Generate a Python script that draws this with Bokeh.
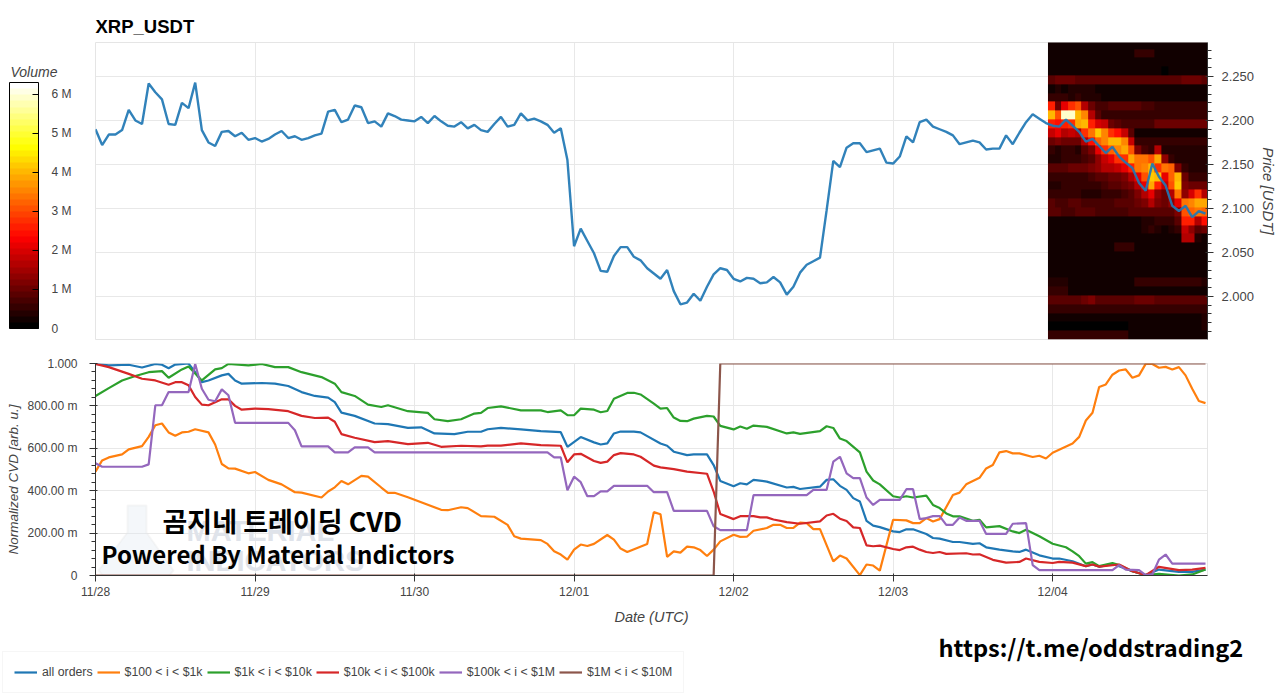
from math import pi

import numpy as np
import pandas as pd

from bokeh.embed import file_html
from bokeh.layouts import column, row
from bokeh.models import (ColorBar, DatetimeTickFormatter, FixedTicker, Label, Legend, LegendItem,
                          LinearAxis, LinearColorMapper, PolyAnnotation, Range1d)
from bokeh.plotting import figure
from bokeh.resources import INLINE

START = pd.Timestamp("2024-11-28")
FONT = "Liberation Sans"
TEXT_COLOR = "#444444"

price_usdt = [
    2.190, 2.172, 2.184, 2.184, 2.189, 2.212, 2.200, 2.196, 2.242, 2.232, 2.224, 2.196, 2.195, 2.220,
    2.214, 2.243, 2.189, 2.175, 2.171, 2.187, 2.188, 2.182, 2.186, 2.178, 2.180, 2.176, 2.179, 2.184,
    2.188, 2.180, 2.182, 2.178, 2.180, 2.183, 2.185, 2.210, 2.212, 2.198, 2.201, 2.217, 2.215, 2.197,
    2.199, 2.193, 2.208, 2.205, 2.201, 2.200, 2.199, 2.204, 2.197, 2.205, 2.199, 2.194, 2.193, 2.198,
    2.191, 2.195, 2.189, 2.187, 2.196, 2.204, 2.193, 2.195, 2.208, 2.200, 2.202, 2.199, 2.195, 2.186,
    2.191, 2.155, 2.057, 2.077, 2.063, 2.049, 2.029, 2.028, 2.046, 2.056, 2.056, 2.045, 2.041, 2.032,
    2.026, 2.020, 2.030, 2.006, 1.991, 1.993, 2.003, 1.995, 2.011, 2.025, 2.032, 2.030, 2.020, 2.017,
    2.021, 2.020, 2.015, 2.016, 2.022, 2.016, 2.002, 2.011, 2.027, 2.036, 2.040, 2.044, 2.098, 2.154,
    2.147, 2.169, 2.174, 2.174, 2.164, 2.166, 2.168, 2.152, 2.151, 2.159, 2.182, 2.175, 2.198, 2.201,
    2.193, 2.190, 2.187, 2.183, 2.173, 2.175, 2.177, 2.175, 2.167, 2.168, 2.168, 2.183, 2.173, 2.186,
    2.198, 2.207, 2.202, 2.197, 2.194, 2.193, 2.201, 2.194, 2.187, 2.176, 2.179, 2.171, 2.163, 2.170,
    2.159, 2.152, 2.146, 2.129, 2.120, 2.151, 2.136, 2.126, 2.103, 2.097, 2.103, 2.090, 2.097, 2.094,
]

# volume per price bin, millions, rows run from the top of the chart down, one column per hour
volume_rows = [
    [.3, .3, .3, .3, .3, .3, .3, .3, .3, .3, .3, .3, .3, .3, .3, .3, .3, .3, .3, .3, .3, .3, .3, .3],
    [.3, .3, .3, .3, .3, .3, .3, .3, .3, .3, .3, .3, .3, .5, .5, .5, .3, .3, .3, .3, .3, .3, .3, .3],
    [.3, .3, .3, .3, .3, .3, .2, .2, .2, .2, .2, .2, .2, .2, .3, .3, .3, .3, .3, .3, .3, .3, .3, .3],
    [.3, .3, .3, .3, .3, .3, .3, .3, .3, .3, .3, .3, .3, .3, .3, .3, .3, .1, .3, .3, .3, .3, .3, .3],
    [.9, 1., 1., 1., .9, .9, .9, .9, .9, .9, .8, .8, .8, .8, .8, .8, .8, .8, .8, .8, 1., 1., 1., .9],
    [.3, .4, .3, .4, .4, .4, .4, .3, .3, .3, .3, .3, .3, .3, .3, .3, .3, .3, .3, .3, .3, .3, .3, .3],
    [.6, .5, .6, .4, .6, .4, .4, .4, .3, .3, .3, .3, .3, .3, .3, .3, .3, .3, .3, .3, .3, .3, .3, .3],
    [2.6, 1., 2.2, 2.8, 3., 1.6, 1., .7, .7, .8, .8, .8, .8, .8, .7, .7, .6, .6, .6, .6, .6, .6, .6, .6],
    [4., 3., 5.9, 5.9, 4., 3.6, 1.6, .8, .5, .5, .5, .5, .5, .5, .5, .5, .5, .5, .5, .5, .5, .5, .5, .5],
    [2.6, 2.4, 2.6, 2.8, 3.8, 4., 2.6, 2., 1.8, 1., .8, .7, .7, .7, .7, .7, 1., 1., 1., 1., 1., 1., 1., 1.],
    [1.8, 2.2, 1.6, 1.8, 1.6, 2.8, 3.4, 4.2, 3.6, 2.8, 2.4, 1.8, .9, .3, .3, .3, .3, .3, .3, .3, .3, .3, .3, .3],
    [1., 1.2, 1., 1., 1., 1.6, 2.4, 3.2, 3.6, 4., 4., 3.6, 1.8, .6, .5, .5, .5, .5, .5, .5, .5, .5, .5, .5],
    [.5, .4, .5, .5, .4, .8, 1.2, 2.2, 2.8, 3.2, 3.6, 3.8, 3., 1.2, .7, .5, 1.6, .4, .4, .4, .4, .4, .4, .4],
    [.4, .4, .5, .5, .5, .7, .9, 1.4, 1.8, 2.2, 2.8, 2.8, 3.8, 3.4, 3.4, 3., 3.8, 1.4, .6, .4, .4, .4, .4, .4],
    [.9, .9, .9, 1., 1., 1., 1.2, 1.4, 1.6, 1.6, 1.8, 2.2, 2.6, 3.4, 3.6, 4., 2.8, 3.4, 3.2, 1.2, .5, .4, .4, .4],
    [.5, .5, .5, .5, .6, .6, .7, .8, .9, 1., 1., 1.2, 1.6, 2.2, 3., 4.2, 4., 2.2, 3.2, 4., 1., .5, .5, .5],
    [.4, .4, .5, .5, .5, .5, .6, .6, .7, .8, .9, 1., 1.2, 1.6, 2.2, 3.8, 2.6, 1.8, 3., 4.2, 1.2, 1., 1., 1.],
    [.5, .5, .5, .5, .5, .4, .4, .4, .5, .5, .6, .7, .9, 1.2, 1.6, 2.2, 1.4, 1., 1.6, 3.4, 1.4, 2., 2.8, 1.6],
    [.8, .7, .7, .8, .8, .7, .7, .7, .7, .7, .8, .8, .9, 1., 1.2, 1.6, 1.2, 1., 1.4, 2.2, 3.4, 3.6, 3.8, 3.8],
    [.8, .8, .7, .7, .8, .8, .8, .7, .7, .7, .7, .7, .8, .8, .8, .9, .8, .8, .9, 1.2, 3., 3.2, 3.4, 3.2],
    [.2, .2, .2, .2, .2, .2, .2, .2, .2, .2, .25, .25, .3, .3, .4, .4, .5, .5, .6, .9, 2.6, 2.6, 1.6, 2.4],
    [.2, .2, .2, .2, .2, .2, .2, .2, .2, .2, .2, .2, .25, .3, .4, .5, .4, .3, .4, .6, 1.8, 1.4, .8, 1.],
    [.2, .2, .2, .2, .2, .2, .2, .2, .2, .2, .2, .2, .2, .2, .2, .2, .2, .2, .2, .3, 1.6, 1.6, .4, .3],
    [.2, .2, .2, .2, .2, .2, .2, .2, .2, .2, .5, .5, .5, .2, .2, .2, .2, .2, .2, .2, .2, .2, .2, .2],
    [.2, .2, .2, .2, .2, .2, .2, .2, .2, .2, .2, .2, .2, .2, .2, .2, .2, .2, .2, .2, .2, .2, .2, .2],
    [.25, .25, .25, .25, .25, .25, .25, .25, .25, .25, .25, .25, .25, .25, .25, .25, .25, .25, .25, .25, .25, .25, .25, .25],
    [.3, .3, .3, .3, .3, .3, .3, .3, .3, .3, .3, .3, .3, .3, .3, .3, .3, .3, .3, .3, .3, .3, .3, .3],
    [.4, .4, .4, .3, .3, .3, .3, .3, .3, .3, .3, .3, .3, .6, .6, .6, .6, .6, .6, .6, .6, .6, .6, .4],
    [.5, .5, .5, .3, .3, .3, .3, .3, .3, .3, .3, .3, .3, .3, .3, .3, .3, .3, .3, .3, .3, .3, .3, .3],
    [.8, .8, .9, .9, .9, 1., 1.2, .9, .9, .9, .9, .9, .9, 1., 1., 1., .9, .9, .9, .9, .9, .9, .9, .9],
    [.5, .5, .5, .5, .5, .5, .5, .5, .5, .5, .5, .5, .5, .5, .5, .5, .5, .5, .5, .5, .5, .5, .5, .5],
    [.2, .2, .2, .2, .2, .2, .2, .2, .2, .2, .2, .2, .2, .2, .2, .2, .2, .2, .2, .2, .2, .2, .2, .35],
    [.15, .15, .15, .15, .15, .15, .15, .15, .15, .15, .15, .15, .2, .2, .2, .2, .2, .2, .2, .2, .2, .2, .2, .35],
    [.5, .5, .5, .5, .5, .5, .5, .5, .5, .5, .5, .5, .25, .25, .25, .25, .25, .25, .25, .25, .25, .25, .25, .25],
]

all_hours = [0, 2, 5, 7, 9, 10, 11, 12, 14, 15, 16, 17, 19, 20, 21, 22, 25, 27, 29, 31, 33, 35, 36, 37, 39, 42, 44, 47, 49, 51,
             54, 56, 58, 59, 61, 64, 67, 70, 71, 73, 75, 76, 77, 78, 79, 81, 82, 85, 86, 87, 89, 90, 92, 93, 94, 96, 97, 98, 99,
             101, 104, 105, 106, 109, 110, 111, 112, 113, 114, 115, 116, 117, 118, 120, 121, 122, 123, 125, 126, 127, 129, 130,
             132, 133, 134, 136, 138, 139, 140, 142, 144, 145, 147, 149, 150, 151, 153, 154, 156, 158, 160, 163, 165, 167]
all_orders = [.998, .991, .994, .981, .998, .994, .978, .995, 1.0, .959, .912, .920, .944, .951, .920, .905, .908, .905, .894,
              .865, .847, .839, .818, .768, .753, .717, .714, .696, .699, .670, .667, .678, .678, .690, .696, .689, .681, .676,
              .607, .653, .628, .618, .623, .670, .679, .679, .675, .623, .612, .584, .568, .571, .571, .521, .446, .421, .435,
              .430, .451, .443, .415, .418, .408, .419, .451, .454, .423, .404, .365, .349, .258, .235, .228, .208, .205, .218,
              .218, .196, .177, .174, .158, .158, .149, .152, .133, .122, .114, .111, .122, .095, .080, .080, .067, .044, .052,
              .041, .055, .044, .020, .002, .028, .017, .017, .028]

usd100_hours = [0, 1, 2, 4, 5, 7, 8, 9, 10, 11, 12, 13, 14, 15, 17, 18, 19, 20, 21, 23, 24, 26, 28, 30, 31, 34, 35, 36, 37, 38, 40, 41,
                43, 44, 45, 47, 52, 53, 55, 56, 58, 60, 62, 63, 64, 67, 68, 69, 70, 71, 72, 73, 74, 75, 77, 78, 79, 80, 83, 84, 85,
                86, 87, 88, 89, 90, 91, 92, 93, 94, 96, 97, 98, 99, 101, 102, 103, 104, 105, 106, 107, 108, 109, 111, 112, 113, 115,
                116, 117, 118, 120, 122, 123, 124, 125, 126, 127, 129, 130, 131, 133, 134, 135, 136, 137, 138, 139, 141, 142, 143,
                144, 147, 148, 149, 150, 151, 152, 153, 154, 155, 156, 157, 158, 159, 160, 161, 162, 163, 164, 165, 166, 167]
usd100_1k = [.490, .543, .557, .571, .595, .610, .654, .709, .717, .675, .659, .675, .678, .690, .675, .618, .526, .505, .504,
             .482, .488, .451, .430, .393, .391, .368, .396, .416, .446, .430, .470, .466, .415, .390, .390, .369, .310, .308,
             .322, .318, .280, .277, .239, .185, .174, .167, .149, .114, .099, .075, .122, .146, .139, .149, .191, .169, .127,
             .111, .149, .299, .289, .088, .114, .108, .136, .133, .120, .092, .122, .161, .192, .182, .183, .211, .224, .239,
             .239, .224, .225, .249, .247, .219, .219, .067, .094, .080, .002, .052, .047, .023, .263, .260, .247, .247, .271,
             .255, .266, .380, .391, .430, .461, .505, .521, .581, .587, .576, .576, .559, .565, .552, .579, .623, .654, .731,
             .768, .889, .901, .947, .967, .972, .933, .944, .998, .998, .980, .984, .972, .983, .944, .881, .823, .813]

usd1k_hours = [0, 2, 4, 6, 8, 10, 11, 13, 14, 16, 18, 19, 20, 23, 25, 27, 29, 31, 34, 36, 37, 39, 41, 43, 44, 47, 50, 51, 53, 55, 57,
               58, 59, 61, 64, 67, 68, 70, 71, 72, 73, 75, 76, 77, 78, 80, 81, 82, 84, 85, 86, 87, 88, 89, 90, 92, 93, 94, 96, 97,
               98, 99, 101, 104, 105, 106, 109, 110, 111, 112, 113, 115, 116, 117, 118, 120, 121, 122, 123, 125, 126, 127, 128,
               129, 130, 132, 133, 134, 136, 138, 139, 140, 142, 144, 146, 147, 148, 149, 150, 151, 153, 154, 156, 158, 160, 163,
               165, 167]
usd1k_10k = [.847, .884, .920, .941, .959, .964, .933, .972, .986, .920, .972, .978, .998, .991, .998, .983, .983, .959, .936,
             .905, .865, .847, .806, .795, .803, .775, .767, .737, .728, .737, .764, .767, .790, .798, .779, .779, .771, .779,
             .756, .756, .787, .782, .770, .776, .834, .861, .862, .854, .811, .787, .790, .745, .729, .728, .740, .753, .750,
             .706, .689, .703, .692, .707, .701, .670, .675, .668, .681, .704, .696, .646, .634, .581, .490, .448, .430, .374,
             .368, .374, .368, .377, .333, .318, .293, .279, .279, .258, .263, .227, .233, .208, .200, .216, .185, .150, .133,
             .114, .091, .056, .063, .044, .059, .049, .020, .002, .008, .000, .005, .028]

usd10k_hours = [0, 2, 5, 7, 9, 11, 12, 13, 14, 15, 16, 17, 19, 20, 21, 22, 24, 26, 29, 31, 33, 35, 36, 37, 39, 42, 44, 47, 50, 52, 55,
                58, 59, 61, 64, 67, 70, 71, 72, 73, 75, 76, 77, 78, 79, 81, 82, 84, 85, 87, 89, 92, 93, 94, 96, 97, 99, 100, 101,
                102, 104, 106, 109, 110, 111, 112, 113, 114, 115, 116, 117, 118, 120, 121, 122, 123, 124, 125, 126, 127, 128, 131,
                132, 133, 135, 137, 139, 140, 142, 144, 145, 147, 149, 150, 151, 154, 156, 158, 160, 163, 165, 167]
usd10k_100k = [.998, .983, .951, .928, .920, .900, .912, .912, .897, .842, .806, .803, .831, .831, .800, .782, .787, .785, .775,
               .753, .743, .745, .725, .667, .650, .629, .634, .620, .626, .607, .612, .609, .613, .613, .623, .615, .612, .534,
               .571, .574, .540, .531, .537, .568, .577, .571, .560, .518, .510, .502, .490, .480, .396, .290, .266, .280, .280,
               .274, .274, .264, .252, .244, .255, .283, .291, .268, .257, .227, .224, .142, .138, .141, .125, .120, .133, .136,
               .122, .111, .106, .111, .102, .105, .099, .100, .074, .061, .064, .080, .064, .059, .064, .061, .044, .052, .042,
               .052, .020, .002, .041, .025, .028, .036]

usd100k_hours = [0, 1, 7, 8, 9, 10, 11, 14, 15, 16, 17, 18, 19, 20, 21, 29, 30, 31, 35, 36, 38, 39, 41, 42, 68, 69, 70, 71, 72, 73, 74, 75,
                 76, 77, 78, 83, 84, 86, 87, 92, 93, 94, 98, 99, 107, 108, 110, 111, 112, 113, 114, 115, 116, 117, 118, 121, 122, 123,
                 124, 125, 126, 127, 128, 129, 130, 131, 133, 134, 137, 138, 140, 141, 142, 153, 154, 155, 157, 158, 159, 160, 161,
                 162, 167]
usd100k_1m = [.529, .513, .513, .524, .803, .803, .865, .865, .998, .881, .829, .822, .878, .850, .720, .720, .685, .609, .609,
              .581, .581, .604, .604, .581, .581, .557, .557, .402, .466, .440, .374, .374, .397, .397, .423, .423, .393, .393,
              .305, .305, .232, .214, .214, .379, .379, .404, .404, .537, .560, .482, .459, .459, .368, .333, .357, .357, .407,
              .407, .266, .271, .280, .280, .239, .239, .274, .258, .258, .196, .196, .244, .247, .049, .025, .025, .049, .028,
              .025, .002, .005, .075, .099, .056, .056]

usd1m_hours = [0, 93, 94, 167]
usd1m_10m = [0, 0, 1, 1]

series_names = ["all orders", "$100 < i < $1k", "$1k < i < $10k", "$10k < i < $100k", "$100k < i < $1M", "$1M < i < $10M"]
series_colors = ["#1f77b4", "#ff7f0e", "#2ca02c", "#d62728", "#9467bd", "#8c564b"]

day_ticks = [START + pd.Timedelta(days=d) for d in range(7)]
price_ticks = [2.0, 2.05, 2.1, 2.15, 2.2, 2.25]
price_labels = ["2.000", "2.050", "2.100", "2.150", "2.200", "2.250"]
volume_ticks = [0, 1e6, 2e6, 3e6, 4e6, 5e6, 6e6]
volume_labels = ["0", "1 M", "2 M", "3 M", "4 M", "5 M", "6 M"]
cvd_ticks = [0, 0.2, 0.4, 0.6, 0.8, 1]
cvd_labels = ["0", "200.00 m", "400.00 m", "600.00 m", "800.00 m", "1.000"]


def hot_palette(n):
    # black - red - yellow - white, same stops as the classic "hot" map
    out = []
    for i in range(n):
        t = i / (n - 1)
        r = min(t / 0.365, 1)
        g = min(max((t - 0.365) / 0.381, 0), 1)
        b = min(max((t - 0.746) / 0.254, 0), 1)
        out.append("#%02x%02x%02x" % (int(r * 255), int(g * 255), int(b * 255)))
    return out


def to_time(hours):
    return [START + pd.Timedelta(hours=h) for h in hours]


x_range = Range1d(START, START + pd.Timedelta(hours=167.3))

# price + heatmap
p = figure(width=1280, height=351, x_range=x_range, y_range=Range1d(1.951, 2.2886), x_axis_type="datetime",
           y_axis_location=None, output_backend="svg", toolbar_location=None, title="XRP_USDT",
           min_border_left=95, min_border_right=73, min_border_top=42, min_border_bottom=12)
p.title.text_font = FONT
p.title.text_font_size = "18.5px"
p.title.text_font_style = "bold"
p.title.text_color = "black"
p.title.offset = 0
p.title.standoff = 11
p.xaxis.visible = False
p.outline_line_color = "#e5e5e5"
p.grid.grid_line_color = "#e8e8e8"
p.xgrid.ticker = FixedTicker(ticks=[t.value / 1e6 for t in day_ticks])
p.ygrid.ticker = FixedTicker(ticks=price_ticks)

mapper = LinearColorMapper(palette=hot_palette(40), low=0, high=6.3e6)
volume = np.array(volume_rows)[::-1] * 1e6
p.image(image=[volume], x=START + pd.Timedelta(hours=143.3), y=1.951, dw=(pd.Timedelta(hours=24).total_seconds() * 1000),
        dh=0.34, color_mapper=mapper)
p.line(to_time(range(len(price_usdt))), price_usdt, line_color=series_colors[0], line_width=2.4, line_alpha=0.92)

price_axis = LinearAxis(axis_label="Price [USDT]", ticker=FixedTicker(ticks=price_ticks, minor_ticks=list(np.arange(1.96, 2.29, 0.01).round(2))),
                        major_label_overrides=dict(zip(price_ticks, price_labels)))
price_axis.axis_label_text_font = FONT
price_axis.axis_label_text_font_size = "15px"
price_axis.axis_label_text_color = TEXT_COLOR
price_axis.axis_label_standoff = 3
price_axis.major_label_text_font = FONT
price_axis.major_label_text_font_size = "13px"
price_axis.major_label_text_color = TEXT_COLOR
price_axis.major_label_standoff = 8
price_axis.axis_line_color = "#333333"
price_axis.major_tick_line_color = "#333333"
price_axis.minor_tick_line_color = "#333333"
p.add_layout(price_axis, "right")

cbar = ColorBar(color_mapper=mapper, width=29, height=246, location=(-86, 11), padding=0,
                ticker=FixedTicker(ticks=volume_ticks), major_label_overrides=dict(zip(volume_ticks, volume_labels)),
                background_fill_alpha=0, border_line_alpha=0, bar_line_color="black", major_tick_line_color="black",
                major_tick_in=6, label_standoff=13)
cbar.major_label_text_font = FONT
cbar.major_label_text_font_size = "12px"
cbar.major_label_text_color = TEXT_COLOR
p.add_layout(cbar, "center")
p.add_layout(Label(x=10, y=71, x_units="canvas", y_units="canvas", text="Volume", text_font=FONT, text_font_style="italic",
                   text_font_size="14px", text_color=TEXT_COLOR, text_baseline="middle"), "left")

# normalized cvd
q = figure(width=1280, height=276, x_range=x_range, y_range=Range1d(0, 1), x_axis_type="datetime",
           output_backend="svg", toolbar_location=None, x_axis_label="Date (UTC)",
           min_border_left=95, min_border_right=73, min_border_top=12, min_border_bottom=51)
q.outline_line_color = "#e5e5e5"
q.grid.grid_line_color = "#e8e8e8"
q.xaxis.ticker = FixedTicker(ticks=[t.value / 1e6 for t in day_ticks])
q.xaxis.formatter = DatetimeTickFormatter(days="%m/%d", context=None)
q.xaxis.minor_tick_line_color = None
q.xaxis.major_label_standoff = 3
q.xaxis.axis_label_standoff = 7
q.yaxis.ticker = FixedTicker(ticks=cvd_ticks, minor_ticks=list(np.arange(0, 1.001, 0.04).round(2)))
q.yaxis.major_label_overrides = dict(zip(cvd_ticks, cvd_labels))
q.yaxis.major_label_standoff = 12
for ax in (q.xaxis, q.yaxis):
    ax.axis_label_text_font = FONT
    ax.axis_label_text_font_size = "14.5px"
    ax.axis_label_text_color = TEXT_COLOR
    ax.major_label_text_font = FONT
    ax.major_label_text_font_size = "12px"
    ax.major_label_text_color = TEXT_COLOR
    ax.axis_line_color = "#333333"
    ax.major_tick_line_color = "#333333"
q.yaxis.minor_tick_line_color = "#333333"
# sits lower than the middle of the axis in the reference, so not an axis label
q.add_layout(Label(x=13, y=128, x_units="canvas", y_units="canvas", text="Normalized CVD [arb. u.]", angle=pi / 2,
                   text_font=FONT, text_font_style="italic", text_font_size="13.5px", text_color=TEXT_COLOR,
                   text_align="center", text_baseline="middle"), "left")

# watermark under the lines
flask = PolyAnnotation(xs=[127, 146, 146, 173, 168, 103, 98, 127], ys=[154, 154, 181, 219, 225, 225, 219, 181],
                       xs_units="canvas", ys_units="canvas", fill_color="#dfe8f2", fill_alpha=0.35,
                       line_color="#e6e6e6", line_width=2, level="underlay")
q.add_layout(flask)
for txt, y in [("MATERIAL", 179), ("INDICATORS", 209)]:
    q.add_layout(Label(x=186, y=y, x_units="canvas", y_units="canvas", text=txt, text_font=FONT, text_font_style="bold",
                       text_font_size="29px", text_color="#dfe3ea", text_baseline="middle", level="underlay"))

series = [(all_hours, all_orders), (usd100_hours, usd100_1k), (usd1k_hours, usd1k_10k),
          (usd10k_hours, usd10k_100k), (usd100k_hours, usd100k_1m), (usd1m_hours, usd1m_10m)]
for (hours, values), color in zip(series, series_colors):
    q.line(to_time(hours), values, line_color=color, line_width=2.2)

KR = "Noto Sans CJK KR"
for txt, x, y, size in [("곰지네 트레이딩 CVD", 162, 169, "27px"), ("Powered By Material Indictors", 101, 202, "24px")]:
    q.add_layout(Label(x=x, y=y, x_units="canvas", y_units="canvas", text=txt, text_font=KR, text_font_style="bold",
                       text_font_size=size, text_color="black", text_baseline="middle"))

# strip under the chart: legend box and channel link. The range is far from the data, its lines only feed the legend
r = figure(width=1280, height=67, x_range=Range1d(0, 1), y_range=Range1d(5, 6), x_axis_location=None, y_axis_location=None,
           output_backend="svg", toolbar_location=None, min_border=0, outline_line_color=None)
r.grid.visible = False
keys = [r.line(hours, values, line_color=color, line_width=2.2) for (hours, values), color in zip(series, series_colors)]
legend = Legend(items=[LegendItem(label=n, renderers=[k]) for n, k in zip(series_names, keys)],
                orientation="horizontal", location=(2, 1), padding=11, spacing=4, margin=0,
                label_text_font=FONT, label_text_font_size="12.3px", label_text_color=TEXT_COLOR,
                glyph_width=23, glyph_height=18, label_height=18, label_standoff=5,
                border_line_color="#eeeeee", background_fill_alpha=1)
r.add_layout(legend, "center")
r.add_layout(Label(x=938, y=19, x_units="canvas", y_units="canvas", text="https://t.me/oddstrading2", text_font=KR,
                   text_font_style="bold", text_font_size="23.6px", text_color="black", text_baseline="middle"))

layout = column(column(p, q, spacing=0), row(r), spacing=0)
open("out.html", "w").write(file_html(layout, INLINE))
